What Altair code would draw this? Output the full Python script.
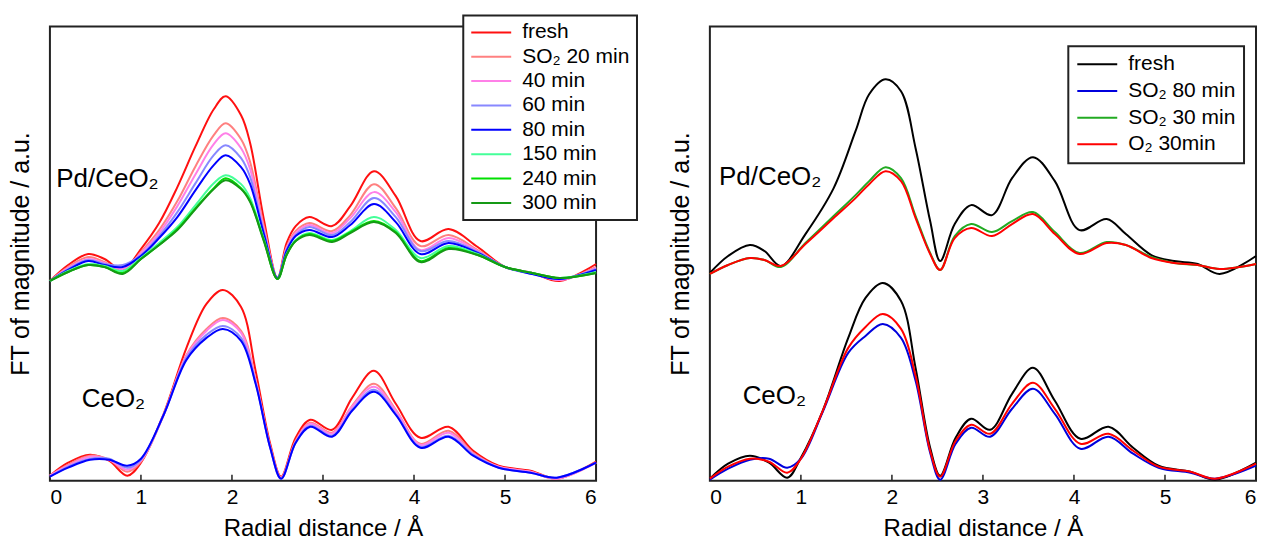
import altair as alt
import pandas as pd

FONT = "Liberation Sans"

# ---------------- left panel: SO2 exposure series ----------------
left_names = ["fresh", "SO₂ 20 min", "40 min", "60 min", "80 min", "150 min", "240 min", "300 min"]
left_colors = ["#ff1010", "#ff8080", "#ff80e8", "#8888ff", "#0000ff", "#44ff99", "#00e000", "#159915"]

# Pd/CeO2 traces (upper group)
pd_left_r = [0, 0.2, 0.42, 0.6, 0.8, 1.0, 1.2, 1.4, 1.6, 1.8, 1.93, 2.1, 2.2, 2.35, 2.5, 2.6, 2.7,
             2.85, 3.1, 3.3, 3.56, 3.8, 4.07, 4.38, 4.7, 5.0, 5.3, 5.6, 6.0]
pd_left_fresh = [200, 216, 227, 222, 211, 232, 258, 294, 335, 372, 385, 366, 338, 262, 203, 238, 255,
                 264, 255, 275, 310, 285, 240, 252, 234, 214, 208, 200, 217]
pd_left_20 = [200, 214, 224, 219, 210, 229, 251, 280, 315, 346, 358, 342, 319, 255, 203, 234, 250,
              258, 250, 266, 297, 273, 235, 246, 231, 214, 208, 201, 214]
pd_left_40 = [200, 213, 222, 218, 212, 228, 248, 275, 307, 337, 348, 333, 312, 252, 203, 233, 248,
              256, 248, 263, 289, 269, 231, 243, 230, 214, 208, 201, 213]
pd_left_60 = [200, 212, 221, 217, 216, 226, 245, 269, 298, 326, 336, 323, 304, 249, 203, 231, 246,
              254, 246, 259, 283, 264, 230, 240, 229, 214, 207, 202, 212]
pd_left_80 = [200, 211, 220, 216, 214, 225, 243, 264, 291, 316, 326, 314, 297, 247, 203, 230, 245,
              251, 244, 256, 277, 259, 227, 238, 228, 214, 207, 202, 211]
pd_left_150 = [200, 210, 217, 215, 210, 223, 238, 254, 276, 298, 306, 297, 283, 242, 202, 227, 241,
               248, 241, 250, 264, 251, 223, 235, 227, 214, 208, 203, 209]
pd_left_240 = [200, 209, 216, 214, 208, 222, 236, 252, 273, 293, 303, 293, 280, 241, 202, 226, 240,
               247, 240, 249, 260, 249, 220, 233, 226, 214, 208, 203, 208]
pd_left_300 = [200, 209, 216, 214, 207, 222, 236, 251, 272, 292, 301, 292, 279, 240, 202, 226, 240,
               246, 239, 248, 259, 248, 219, 232, 226, 214, 208, 203, 208]

# CeO2 traces (lower group)
ce_left_r = [0, 0.2, 0.44, 0.65, 0.85, 1.0, 1.25, 1.5, 1.72, 1.9, 2.1, 2.26, 2.42, 2.54, 2.7, 2.86,
             3.1, 3.32, 3.56, 3.8, 4.07, 4.38, 4.65, 4.93, 5.28, 5.57, 6.0]
ce_left_fresh = [5, 18, 26, 20, 5, 18, 67, 133, 177, 191, 174, 110, 37, 4, 43, 61,
                 51, 83, 110, 77, 43, 54, 30, 15, 10, 2, 19]
ce_left_20 = [5, 16, 25, 21, 9, 19, 66, 126, 152, 163, 150, 101, 34, 3, 40, 58,
              48, 75, 97, 71, 37, 50, 28, 14, 9, 2, 18]
ce_left_40 = [5, 15, 24, 21, 11, 20, 66, 125, 150, 161, 148, 100, 34, 3, 39, 57,
              47, 74, 94, 70, 36, 48, 27, 14, 9, 2, 18]
ce_left_60 = [4, 14, 22, 22, 13, 21, 66, 123, 146, 155, 143, 98, 33, 2, 38, 55,
              45, 71, 91, 67, 34, 45, 26, 13, 8, 3, 18]
ce_left_80 = [4, 13, 21, 21, 15, 22, 66, 121, 143, 152, 140, 97, 33, 2, 38, 54,
              44, 70, 89, 66, 33, 44, 25, 13, 8, 3, 18]

# ---------------- right panel: SO2 / O2 treatments ----------------
right_names = ["fresh", "SO₂ 80 min", "SO₂ 30 min", "O₂ 30min"]
right_colors = ["#000000", "#0000dd", "#22aa22", "#ff0000"]

pd_right_r = [0, 0.2, 0.44, 0.6, 0.78, 1.05, 1.36, 1.6, 1.75, 1.93, 2.1, 2.26, 2.42, 2.53, 2.69,
              2.87, 3.1, 3.32, 3.55, 3.79, 4.06, 4.36, 4.57, 4.85, 5.1, 5.36, 5.6, 6.0]
pd_right_fresh = [208, 225, 236, 230, 215, 247, 293, 350, 387, 402, 390, 333, 260, 220, 257,
                  276, 266, 303, 324, 300, 251, 262, 247, 226, 220, 217, 207, 225]
pd_right_so2_30 = [207, 216, 223, 221, 214, 238, 265, 286, 300, 314, 303, 265, 228, 211, 245,
                   257, 249, 260, 269, 249, 228, 239, 236, 224, 218, 216, 212, 217]
pd_right_o2_30 = [207, 216, 223, 221, 215, 237, 263, 283, 297, 310, 300, 263, 227, 211, 243,
                  253, 245, 257, 267, 247, 227, 238, 236, 223, 218, 216, 212, 217]

ce_right_r = [0, 0.2, 0.44, 0.65, 0.85, 1.0, 1.24, 1.52, 1.71, 1.9, 2.1, 2.26, 2.42, 2.53, 2.7,
              2.87, 3.08, 3.32, 3.55, 3.79, 4.07, 4.38, 4.65, 4.93, 5.28, 5.55, 6.0]
ce_right_fresh = [2, 17, 25, 18, 3, 23, 70, 143, 183, 198, 180, 113, 33, 5, 43,
                  62, 51, 87, 113, 80, 42, 54, 33, 15, 9, 1, 18]
ce_right_o2_30 = [2, 14, 22, 19, 8, 22, 70, 133, 154, 167, 152, 105, 30, 4, 40,
                  56, 47, 77, 98, 72, 37, 47, 30, 14, 9, 2, 17]
ce_right_so2_80 = [1, 12, 21, 22, 13, 22, 69, 128, 145, 157, 143, 100, 28, 1, 37,
                   53, 44, 72, 92, 67, 32, 44, 27, 13, 8, 2, 15]

# sample labels and axis ticks
group_labels = ["Pd/CeO₂", "CeO₂"]
left_label_r = [0.07, 0.35]
left_label_v = [302, 82]
right_label_r = [0.1, 0.36]
right_label_v = [304, 85]
x_ticks = [0, 1, 2, 3, 4, 5, 6]
inner_ticks = [1, 2, 3, 4, 5]
TICK_LEN = 6


def long_table(r, curves, group):
    rows = []
    for name, vals in curves:
        for x, v in zip(r, vals):
            rows.append({"r": x, "v": v, "series": name, "group": group})
    return rows


left_df = pd.DataFrame(
    long_table(pd_left_r, [
        ("fresh", pd_left_fresh), ("SO₂ 20 min", pd_left_20), ("40 min", pd_left_40),
        ("60 min", pd_left_60), ("80 min", pd_left_80), ("150 min", pd_left_150),
        ("240 min", pd_left_240), ("300 min", pd_left_300)], "Pd/CeO2")
    + long_table(ce_left_r, [
        ("fresh", ce_left_fresh), ("SO₂ 20 min", ce_left_20), ("40 min", ce_left_40),
        ("60 min", ce_left_60), ("80 min", ce_left_80)], "CeO2")
)

right_df = pd.DataFrame(
    long_table(pd_right_r, [
        ("fresh", pd_right_fresh), ("SO₂ 30 min", pd_right_so2_30), ("O₂ 30min", pd_right_o2_30)], "Pd/CeO2")
    + long_table(ce_right_r, [
        ("fresh", ce_right_fresh), ("SO₂ 80 min", ce_right_so2_80), ("O₂ 30min", ce_right_o2_30)], "CeO2")
)

tick_df = pd.DataFrame({"r": inner_ticks, "v": [0] * len(inner_ticks), "v2": [TICK_LEN] * len(inner_ticks)})


def panel(df, names, colors, lab_r, lab_v, legend_x, legend_y, row_pad, legend_pad):
    x = alt.X("r:Q", scale=alt.Scale(domain=[0, 6], nice=False, zero=False),
              axis=alt.Axis(values=x_ticks, format="d", title="Radial distance / Å",
                            ticks=False, tickSize=0, domain=False, grid=False,
                            labelPadding=6, titlePadding=9, titleFontSize=24))
    y = alt.Y("v:Q", scale=alt.Scale(domain=[0, 455], nice=False),
              axis=alt.Axis(title="FT of magnitude / a.u.", labels=False, ticks=False, tickSize=0,
                            domain=False, grid=False, titlePadding=16, titleFontSize=25))
    lines = alt.Chart(df).mark_line(strokeWidth=2, interpolate="catmull-rom").encode(
        x=x, y=y,
        color=alt.Color("series:N", sort=names,
                        scale=alt.Scale(domain=names, range=colors),
                        legend=alt.Legend(title=None, orient="none", legendX=legend_x, legendY=legend_y,
                                          direction="vertical", symbolType="stroke", symbolSize=1600,
                                          symbolStrokeWidth=2, clipHeight=20, rowPadding=row_pad,
                                          labelFontSize=21, labelFont=FONT, labelColor="#000",
                                          labelOffset=10, labelLimit=400, padding=legend_pad,
                                          strokeColor="#222", fillColor="white")),
        detail="group:N",
    )
    ticks = alt.Chart(tick_df).mark_rule(color="#222", strokeWidth=1.5).encode(
        x="r:Q", y="v:Q", y2="v2:Q")
    labels = alt.Chart(pd.DataFrame({"r": lab_r, "v": lab_v, "t": group_labels})).mark_text(
        align="left", baseline="middle", fontSize=26, font=FONT, color="#000").encode(
        x="r:Q", y="v:Q", text="t:N")
    return alt.layer(ticks, lines, labels).properties(width=547, height=455)


left = panel(left_df, left_names, left_colors, left_label_r, left_label_v, 414, -11, 3.4, 7)
right = panel(right_df, right_names, right_colors, right_label_r, right_label_v, 359, 20, 5.7, 8)

chart = alt.hconcat(left, right, spacing=114, bounds="flush").resolve_scale(
    color="independent").properties(
    padding={"left": 8, "top": 13, "right": 0, "bottom": 0}
).configure(font=FONT).configure_view(
    stroke="#222", strokeWidth=2
).configure_axis(
    labelFontSize=21, labelFont=FONT, titleFont=FONT,
    titleFontWeight="normal", labelColor="#000", titleColor="#000"
).configure_legend(strokeWidth=2)

chart.save("out.html", embed_options={"renderer": "svg", "actions": False})
